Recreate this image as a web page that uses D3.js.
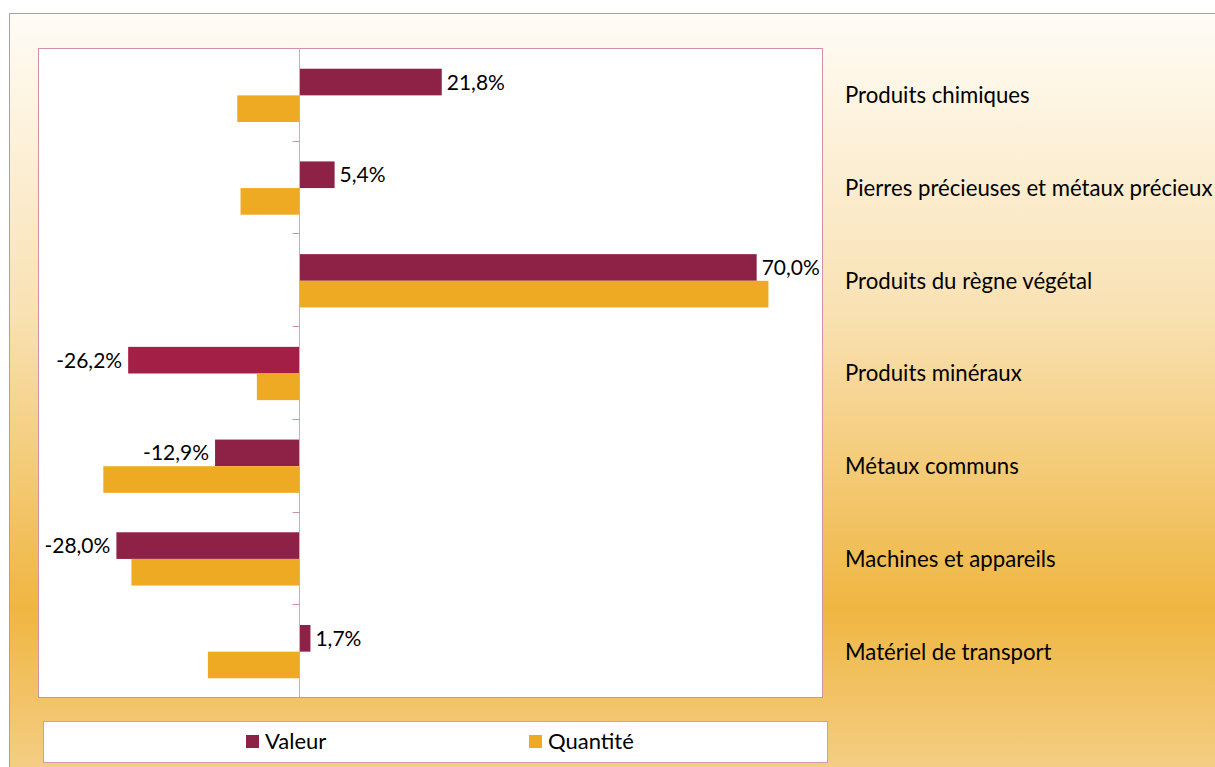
<!DOCTYPE html>
<html lang="fr">
<head>
  <meta charset="utf-8">
  <title>Valeur et quantité par produit</title>
  <script type="text/javascript" src="https://cdn.jsdelivr.net/npm/d3@7"></script>
  <style>
    html, body { margin: 0; padding: 0; background: #fff; }
    svg { display: block; font-family: Lato, "Liberation Sans", sans-serif; }
  </style>
</head>
<body>
<script>
  // data (en %)
  let categories = ["Produits chimiques", "Pierres précieuses et métaux précieux", "Produits du règne végétal",
    "Produits minéraux", "Métaux communs", "Machines et appareils", "Matériel de transport"];
  let series = ["Valeur", "Quantité"];
  let valeur = [21.8, 5.4, 70.0, -26.2, -12.9, -28.0, 1.7];
  let quantite = [-9.5, -9.0, 71.8, -6.5, -30.0, -25.7, -14.0];
  let xDomain = [-40, 80];

  let w = 1215, h = 767;
  let plot = { left: 38, right: 822, top: 48, bottom: 697 };

  let svg = d3.select("body").append("svg")
    .attr("width", w)
    .attr("height", h);

  // background gradient
  let defs = svg.append("defs");
  let grad = defs.append("linearGradient")
    .attr("id", "bg")
    .attr("x1", 0).attr("y1", 0).attr("x2", 0).attr("y2", 1);
  grad.append("stop").attr("offset", "0%").attr("stop-color", "#fffcf6");
  grad.append("stop").attr("offset", "40%").attr("stop-color", "#f9e1b2");
  grad.append("stop").attr("offset", "79%").attr("stop-color", "#efb641");
  grad.append("stop").attr("offset", "100%").attr("stop-color", "#f4cd84");

  svg.append("rect")
    .attr("x", 9).attr("y", 13)
    .attr("width", w - 9).attr("height", h - 13)
    .attr("fill", "url(#bg)");
  svg.append("path")
    .attr("d", "M9.5," + h + "V13.5H" + w)
    .attr("fill", "none")
    .attr("stroke", "#a3a3a3");

  let x = d3.scaleLinear().domain(xDomain).range([plot.left, plot.right]);
  let y = d3.scaleBand().domain(categories).range([plot.top, plot.bottom]).padding(0);
  let ySub = d3.scaleBand().domain(series).range([0, y.bandwidth()]).paddingInner(0).paddingOuter(0.74);

  // plot area
  svg.append("rect")
    .attr("x", plot.left + 0.5).attr("y", plot.top + 0.5)
    .attr("width", plot.right - plot.left).attr("height", plot.bottom - plot.top)
    .attr("fill", "#fff")
    .attr("stroke", "#cf92a6");

  let fr = d3.formatLocale({ decimal: ",", thousands: " ", grouping: [3], currency: ["", " €"], minus: "-" });
  let fmt = fr.format(".1f");

  let rows = categories.map(function(c, i) {
    return { cat: c, Valeur: valeur[i], "Quantité": quantite[i], i: i };
  });

  let colors = { "Valeur": "#8e2146", "Quantité": "#efaa23" };

  let groups = svg.selectAll("g.cat")
    .data(rows)
    .enter()
    .append("g")
    .attr("class", "cat")
    .attr("transform", function(d) { return "translate(0," + (y(d.cat) + 1) + ")"; });

  groups.selectAll("rect")
    .data(function(d) {
      return series.map(function(s) { return { s: s, v: d[s], i: d.i }; });
    })
    .enter()
    .append("rect")
    .attr("x", function(d) { return Math.min(x(0), x(d.v)); })
    .attr("y", function(d) { return ySub(d.s); })
    .attr("width", function(d) { return Math.abs(x(d.v) - x(0)); })
    .attr("height", ySub.bandwidth())
    .attr("fill", function(d) {
      if (d.s === "Valeur" && d.i === 3) return "#a31f45";
      return colors[d.s];
    });

  // data labels (Valeur only)
  groups.append("text")
    .attr("x", function(d) { return d.Valeur >= 0 ? x(d.Valeur) + 5 : x(d.Valeur) - 6; })
    .attr("y", ySub("Valeur") + ySub.bandwidth() / 2)
    .attr("dy", "0.36em")
    .attr("text-anchor", function(d) { return d.Valeur >= 0 ? "start" : "end"; })
    .attr("font-size", 21)
    .attr("fill", "#000")
    .text(function(d) { return fmt(d.Valeur) + "%"; });

  // zero axis with ticks at category boundaries
  let zx = Math.round(x(0)) + 0.5;
  svg.append("line")
    .attr("x1", zx).attr("x2", zx)
    .attr("y1", plot.top).attr("y2", plot.bottom)
    .attr("stroke", "#d9a6b8");
  let bounds = categories.map(function(c) { return y(c); }).concat([plot.bottom]);
  svg.selectAll("line.tick")
    .data(bounds)
    .enter()
    .append("line")
    .attr("class", "tick")
    .attr("x1", zx - 7).attr("x2", zx)
    .attr("y1", function(d) { return Math.round(d) + 0.5; })
    .attr("y2", function(d) { return Math.round(d) + 0.5; })
    .attr("stroke", "#cf92a6");

  // category labels on the right
  svg.selectAll("text.cat")
    .data(categories)
    .enter()
    .append("text")
    .attr("class", "cat")
    .attr("x", 845)
    .attr("y", function(d) { return y(d) + y.bandwidth() / 2 + 1; })
    .attr("dy", "0.36em")
    .attr("font-size", 22.2)
    .attr("fill", "#000")
    .text(function(d) { return d; });

  // legend
  let legend = svg.append("g");
  legend.append("rect")
    .attr("x", 43.5).attr("y", 721.5)
    .attr("width", 784).attr("height", 41)
    .attr("fill", "#fff")
    .attr("stroke", "#d49bb0");
  let legendX = [246, 529];
  let items = legend.selectAll("g.item")
    .data(series)
    .enter()
    .append("g")
    .attr("class", "item")
    .attr("transform", function(d, i) { return "translate(" + legendX[i] + ",735)"; });
  items.append("rect")
    .attr("width", 13).attr("height", 13)
    .attr("fill", function(d) { return colors[d]; });
  items.append("text")
    .attr("x", 19)
    .attr("y", 6.5)
    .attr("dy", "0.36em")
    .attr("font-size", 22)
    .attr("fill", "#000")
    .text(function(d) { return d; });
</script>
</body>
</html>
